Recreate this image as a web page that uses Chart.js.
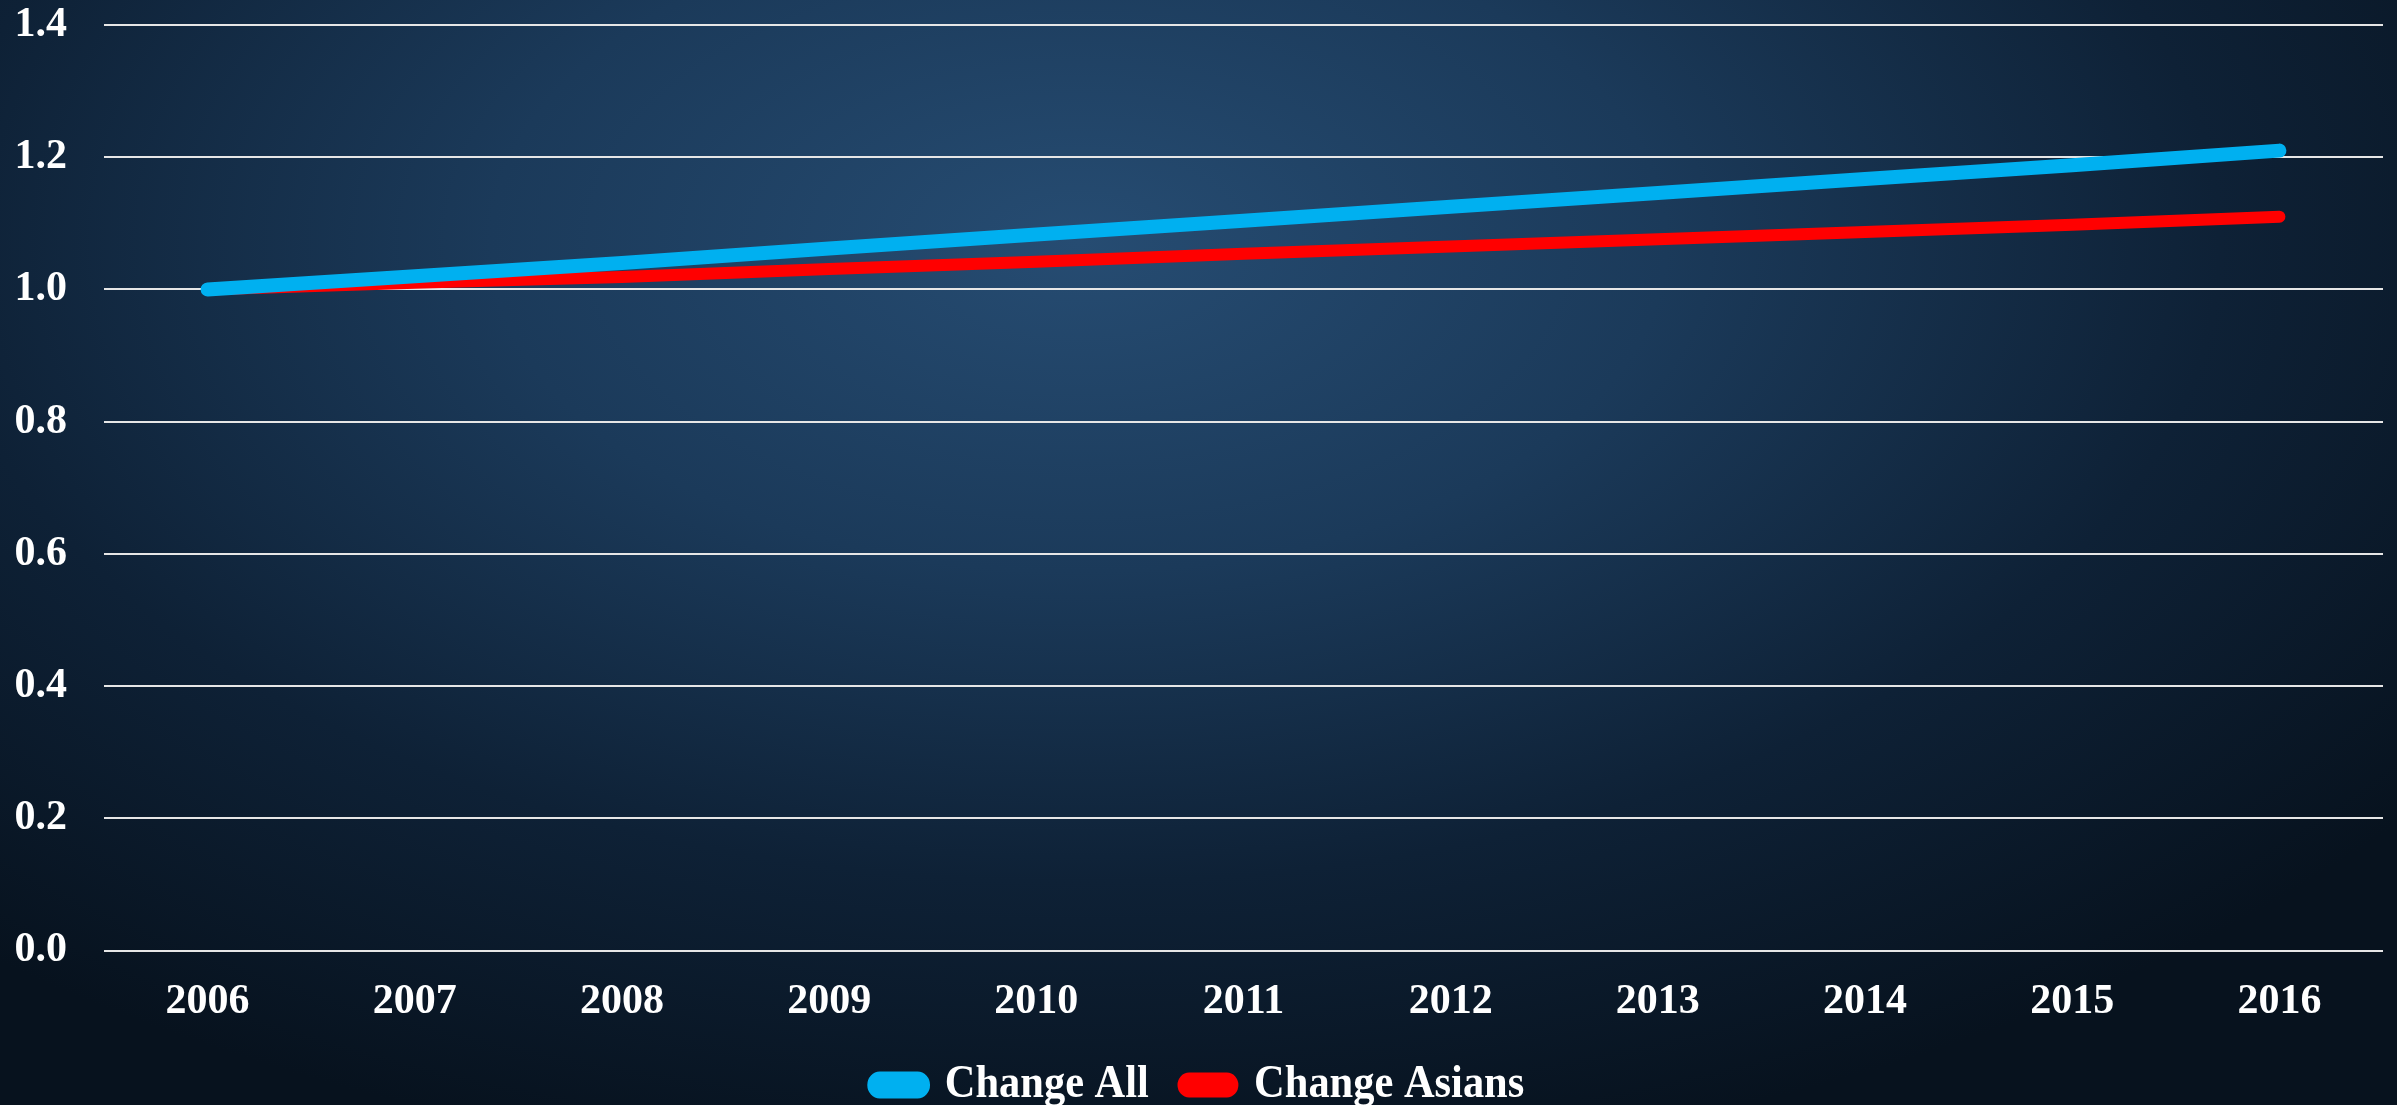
<!DOCTYPE html>
<html>
<head>
<meta charset="utf-8">
<title>Change All vs Change Asians</title>
<script src="https://cdn.jsdelivr.net/npm/chart.js@4/dist/chart.umd.min.js"></script>
<style>
    html, body {
        margin: 0;
        padding: 0;
        width: 2397px;
        height: 1105px;
        overflow: hidden;
        background: radial-gradient(ellipse 70% 85% at 45% 22%, #264c72 0%, #1b3a5a 35%, #0e2136 68%, #07121e 100%);
    }
    canvas { display: block; }
</style>
</head>
<body>
<canvas id="chart" width="2397" height="1138"></canvas>
<script>
// donnees
const years = ['2006', '2007', '2008', '2009', '2010', '2011', '2012', '2013', '2014', '2015', '2016'];
const changeAll = [1.000, 1.020, 1.040, 1.062, 1.083, 1.104, 1.125, 1.146, 1.167, 1.188, 1.210];
const changeAsians = [1.000, 1.010, 1.019, 1.031, 1.042, 1.054, 1.065, 1.076, 1.087, 1.098, 1.110];
const yTicks = [0, 0.2, 0.4, 0.6, 0.8, 1.0, 1.2, 1.4];

const serif = "'Liberation Serif', 'Times New Roman', serif";

// legende : texte un peu etroit, placee tout en bas (coupee par le bord)
const legendCenterX = 1199;
const legendTextY = 1085;
const legendSqueeze = 0.923;

const legendTweak = {
    id: 'legendTweak',
    afterLayout(chart) {
        const lg = chart.legend;
        if (!lg || lg._wrapped) return;
        const origDraw = lg.draw;
        lg.draw = function () {
            const c = this.ctx;
            const hb = this.legendHitBoxes[0];
            const dy = hb ? legendTextY - (hb.top + hb.height / 2) : 0;
            c.save();
            c.translate(legendCenterX, dy);
            c.scale(legendSqueeze, 1);
            c.translate(-(this.left + this.right) / 2, 0);
            origDraw.apply(this, arguments);
            c.restore();
        };
        lg._wrapped = true;
    }
};

const ctx = document.getElementById('chart').getContext('2d');
new Chart(ctx, {
    type: 'line',
    data: {
        labels: years,
        datasets: [
            {
                label: 'Change All',
                data: changeAll,
                borderColor: '#00b0f0',
                backgroundColor: '#00b0f0',
                borderWidth: 14,
                borderCapStyle: 'round',
                borderJoinStyle: 'round',
                pointRadius: 0,
                tension: 0
            },
            {
                label: 'Change Asians',
                data: changeAsians,
                borderColor: '#ff0000',
                backgroundColor: '#ff0000',
                borderWidth: 12,
                borderCapStyle: 'round',
                borderJoinStyle: 'round',
                pointRadius: 0,
                tension: 0
            }
        ]
    },
    options: {
        responsive: false,
        animation: false,
        layout: {
            padding: { left: 15, right: 14, top: 0, bottom: 0 }
        },
        scales: {
            x: {
                offset: true,
                grid: { display: false },
                border: { display: false },
                ticks: {
                    color: '#ffffff',
                    padding: 18,
                    maxRotation: 0,
                    font: { family: serif, size: 42, weight: 'bold' }
                }
            },
            y: {
                min: 0,
                max: 1.4,
                afterBuildTicks(axis) {
                    axis.ticks = yTicks.map(v => ({ value: v }));
                },
                afterFit(axis) {
                    // largeur de l'axe et marge haute comme sur l'image
                    axis.width = 89;
                    axis.paddingTop = 25;
                },
                grid: {
                    color: '#e6e6e6',
                    lineWidth: 2,
                    drawTicks: false
                },
                border: { display: false },
                ticks: {
                    color: '#ffffff',
                    padding: 37,
                    font: { family: serif, size: 42, weight: 'bold' },
                    callback: v => Number(v).toFixed(1)
                }
            }
        },
        plugins: {
            legend: {
                position: 'bottom',
                labels: {
                    color: '#ffffff',
                    boxWidth: 54,
                    boxHeight: 13,
                    useBorderRadius: true,
                    borderRadius: 6.5,
                    padding: 37,
                    font: { family: serif, size: 46, weight: 'bold' }
                }
            },
            tooltip: { enabled: false }
        }
    },
    plugins: [legendTweak]
});
</script>
</body>
</html>
